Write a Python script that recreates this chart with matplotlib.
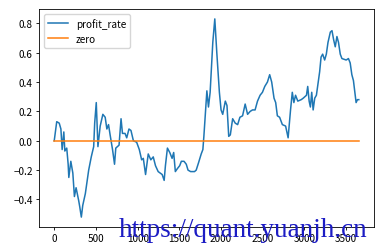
import matplotlib
matplotlib.use("Agg")
import matplotlib.pyplot as plt

plt.rcParams['font.family'] = ['Noto Sans CJK SC', 'DejaVu Sans']
plt.rcParams['font.size'] = 7.2

# profit curve (x = bar index, y = profit rate)
steps = [0, 30, 60, 80, 95, 115, 127, 150, 167, 175, 199, 223, 242, 262, 294, 306,
         325, 342, 373, 413, 444, 473, 485, 504, 524, 551, 583, 611, 631, 651, 670,
         699, 723, 738, 777, 801, 818, 849, 869, 896, 920, 949, 988, 1020, 1048,
         1068, 1095, 1127, 1158, 1187, 1214, 1246, 1294, 1318, 1333, 1357, 1385,
         1413, 1432, 1452, 1476, 1504, 1524, 1556, 1583, 1604, 1635, 1682, 1702,
         1730, 1762, 1782, 1794, 1810, 1830, 1849, 1869, 1901, 1925, 1949, 1980,
         2000, 2020, 2051, 2071, 2092, 2111, 2139, 2170, 2199, 2226, 2258, 2289,
         2318, 2349, 2377, 2408, 2437, 2468, 2496, 2524, 2556, 2583, 2607, 2635,
         2655, 2675, 2702, 2735, 2774, 2804, 2833, 2854, 2873, 2893, 2920, 2961,
         2985, 3024, 3039, 3056, 3071, 3087, 3104, 3123, 3143, 3158, 3182, 3199,
         3218, 3242, 3262, 3282, 3310, 3330, 3349, 3369, 3389, 3408, 3429, 3449,
         3500, 3527, 3548, 3568, 3587, 3607, 3619, 3635, 3651]
profit_rate = [0.00, 0.13, 0.12, 0.08, -0.06, 0.06, -0.07, -0.05, -0.16, -0.25,
               -0.14, -0.22, -0.38, -0.32, -0.41, -0.45, -0.52, -0.44, -0.36, -0.20,
               -0.11, -0.04, 0.12, 0.26, -0.04, 0.10, 0.18, 0.16, 0.08, 0.11, 0.04,
               -0.06, -0.16, -0.05, -0.03, 0.15, 0.05, 0.05, 0.02, 0.08, 0.07, 0.00,
               -0.01, -0.06, -0.13, -0.12, -0.23, -0.09, -0.13, -0.11, -0.17, -0.21,
               -0.23, -0.27, -0.17, -0.05, -0.08, -0.12, -0.08, -0.21, -0.19, -0.17,
               -0.14, -0.14, -0.16, -0.20, -0.21, -0.21, -0.20, -0.15, -0.09, -0.06,
               0.03, 0.17, 0.34, 0.23, 0.33, 0.67, 0.83, 0.60, 0.33, 0.21, 0.18, 0.27,
               0.24, 0.03, 0.04, 0.15, 0.12, 0.11, 0.16, 0.17, 0.25, 0.18, 0.20, 0.21,
               0.21, 0.27, 0.31, 0.33, 0.37, 0.40, 0.45, 0.40, 0.29, 0.26, 0.17, 0.16,
               0.11, 0.10, 0.02, 0.21, 0.33, 0.26, 0.31, 0.27, 0.28, 0.29, 0.31, 0.37,
               0.27, 0.23, 0.33, 0.21, 0.29, 0.31, 0.37, 0.47, 0.57, 0.59, 0.55, 0.59,
               0.67, 0.74, 0.75, 0.69, 0.64, 0.71, 0.67, 0.59, 0.56, 0.55, 0.56, 0.53,
               0.45, 0.41, 0.32, 0.26, 0.28, 0.28]
zero = [0.0 for _ in steps]

fig = plt.figure(figsize=(3.83, 2.53), dpi=100)
ax = fig.add_axes([39 / 383, 25 / 253, 335 / 383, 218 / 253])

ax.plot(steps, profit_rate, color='#1f77b4', linewidth=1.1, label='profit_rate')
ax.plot(steps, zero, color='#ff7f0e', linewidth=1.1, label='zero')
ax.set_xticks([0, 500, 1000, 1500, 2000, 2500, 3000, 3500])
ax.set_yticks([-0.4, -0.2, 0.0, 0.2, 0.4, 0.6, 0.8])
ax.tick_params(length=2.5, width=0.6, pad=2)
for s in ax.spines.values():
    s.set_linewidth(0.6)
ax.legend(loc='upper left', fontsize=7.2, handlelength=2.0)

# watermark over the lower right corner
fig.text(119 / 383, 1 - 237 / 253, 'https://quant.yuanjh.cn', color='#1c1cc4',
         family='Liberation Serif', fontsize=19.5)

fig.savefig('out.png', dpi=100)
